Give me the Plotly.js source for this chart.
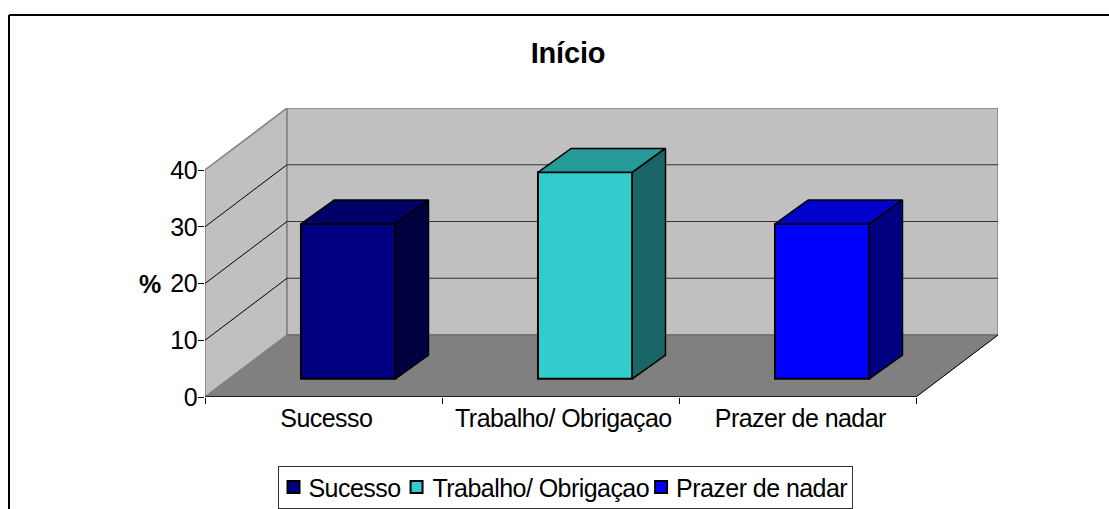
<!DOCTYPE html>
<html>
<head>
<meta charset="utf-8">
<script src="https://cdn.plot.ly/plotly-3.0.1.min.js"></script>
<style>
html,body{margin:0;padding:0;background:#fff;overflow:hidden}
#chart{width:1109px;height:509px}
.xtick text,.ytick text,.legendtext{letter-spacing:-0.55px}
.gtitle{letter-spacing:-0.2px}
.legend rect.bg{width:574px;height:42px}
.legend .traces:nth-child(1) .legendpoints{transform:translate(-5px,-3px)}
.legend .traces:nth-child(1) .legendtext{transform:translate(-10px,-3px)}
.legend .traces:nth-child(2) .legendpoints{transform:translate(-19px,-3px)}
.legend .traces:nth-child(2) .legendtext{transform:translate(-23px,-3px)}
.legend .traces:nth-child(3) .legendpoints{transform:translate(-36px,-3px)}
.legend .traces:nth-child(3) .legendtext{transform:translate(-41px,-3px)}
</style>
</head>
<body>
<div id="chart"></div>
<script>
const categories = ["Sucesso", "Trabalho/ Obrigaçao", "Prazer de nadar"];
const values = [27.3, 36.4, 27.3];
const frontColors = ["#000080", "#33CCCC", "#0000FF"];
const topColors = ["#000066", "#269999", "#0000CC"];
const sideColors = ["#000040", "#1A6666", "#000080"];
const yTicks = [0, 10, 20, 30, 40];
const xBoundaries = [-0.5, 0.5, 1.5, 2.5];
const titleText = "Início";
const yLabel = "%";

// oblique projection of the 3D box, expressed in axis units
const depthX = 0.346, depthY = 10.925;
const yMax = 40;
const barShift = 0.104, barBase = 3.2, barWidth = 0.398;
const barDepthX = 0.14, barDepthY = 4.2;

const poly = pts => pts.map((p, i) => (i ? "L" : "M") + p[0] + "," + p[1]).join(" ") + " Z";
const shp = (path, fill, lineColor, w) => ({type: "path", xref: "x", yref: "y", layer: "below", path,
  fillcolor: fill, line: {color: lineColor, width: w}});
const seg = (x0, y0, x1, y1, c, w) => ({type: "line", xref: "x", yref: "y", layer: "below", x0, y0, x1, y1, line: {color: c, width: w}});

const L = xBoundaries[0], R = xBoundaries[3];
const pxX = p => (p - 205) / 793, pxY = p => (396.7 - p) / 288.7;
const shapes = [
  // outer chart frame: top and left only
  {type: "line", xref: "paper", yref: "paper", layer: "below", x0: pxX(9), x1: 1.2, y0: pxY(15), y1: pxY(15), line: {color: "#000", width: 2}},
  {type: "line", xref: "paper", yref: "paper", layer: "below", x0: pxX(9), x1: pxX(9), y0: pxY(15), y1: -0.5, line: {color: "#000", width: 2}},
  // walls and floor
  shp(poly([[L, 0], [L + depthX, depthY], [L + depthX, yMax + depthY], [L, yMax]]), "#C0C0C0", "#808080", 1.5),
  shp(poly([[L + depthX, depthY], [R + depthX, depthY], [R + depthX, yMax + depthY], [L + depthX, yMax + depthY]]), "#C0C0C0", "#808080", 1.5),
  shp(poly([[L, 0], [R, 0], [R + depthX, depthY], [L + depthX, depthY]]), "#808080", "#808080", 1)
];
yTicks.forEach(t => {
  if (t > 0 && t < yMax) shapes.push(seg(L, t, L + depthX, t + depthY, "#000", 1));
  if (t < yMax) shapes.push(seg(L + depthX, t + depthY, R + depthX, t + depthY, t === 0 ? "#666" : "#333", 1));
});
shapes.push(seg(L, 0, R, 0, "#000", 1.5));
shapes.push(seg(R, 0, R + depthX, depthY, "#000", 1));

const traces = [];
categories.forEach((name, i) => {
  const x0 = i + barShift - barWidth / 2, x1 = i + barShift + barWidth / 2;
  const top = barBase + values[i];
  traces.push({type: "bar", name, x: [i + barShift], y: [values[i]], base: [barBase], width: [barWidth],
    marker: {color: frontColors[i], line: {color: "#000", width: 2}}, hoverinfo: "skip", showlegend: true});
  traces.push({type: "scatter", mode: "lines", showlegend: false, hoverinfo: "skip", fill: "toself", fillcolor: topColors[i],
    line: {color: "#000", width: 1.5},
    x: [x0, x1, x1 + barDepthX, x0 + barDepthX, x0], y: [top, top, top + barDepthY, top + barDepthY, top]});
  traces.push({type: "scatter", mode: "lines", showlegend: false, hoverinfo: "skip", fill: "toself", fillcolor: sideColors[i],
    line: {color: "#000", width: 1.5},
    x: [x1, x1 + barDepthX, x1 + barDepthX, x1, x1], y: [barBase, barBase + barDepthY, top + barDepthY, top, barBase]});
});

const font = {family: "'Liberation Sans', Arial, sans-serif", size: 25, color: "#000"};
const layout = {
  width: 1109, height: 509,
  margin: {l: 205, r: 111, t: 108, b: 112.3, pad: 0, autoexpand: false},
  paper_bgcolor: "#fff", plot_bgcolor: "rgba(0,0,0,0)",
  font,
  barmode: "overlay",
  title: {text: "<b>" + titleText + "</b>", x: 568 / 1109, xanchor: "center", y: 1 - 53 / 509, yanchor: "middle", font: {family: font.family, size: 29, color: "#000"}},
  xaxis: {range: [L, R + depthX], tickmode: "array", tickvals: categories.map((c, i) => i + 0.012), ticktext: categories,
    ticks: "", showgrid: false, zeroline: false, showline: false, tickfont: font, ticklabelstandoff: 4,
    minor: {tickmode: "array", tickvals: xBoundaries, ticks: "outside", ticklen: 6, tickwidth: 1, tickcolor: "#000", showgrid: false}},
  yaxis: {range: [0, yMax + depthY], tickmode: "array", tickvals: yTicks, ticks: "outside", ticklen: 6, tickwidth: 1, tickcolor: "#000",
    showgrid: false, zeroline: false, showline: false, tickfont: font, ticklabelstandoff: -4},
  showlegend: true,
  legend: {orientation: "h", x: pxX(277.5), xanchor: "left", y: pxY(466), yanchor: "top",
    bgcolor: "#fff", bordercolor: "#333", borderwidth: 1, font, itemclick: false, itemdoubleclick: false, traceorder: "normal"},
  annotations: [{text: "<b>" + yLabel + "</b>", xref: "paper", yref: "paper", x: pxX(137), y: pxY(284), showarrow: false,
    font: {family: font.family, size: 25, color: "#000"}}],
  shapes
};
Plotly.newPlot("chart", traces, layout, {displayModeBar: false, staticPlot: false});
</script>
</body>
</html>
